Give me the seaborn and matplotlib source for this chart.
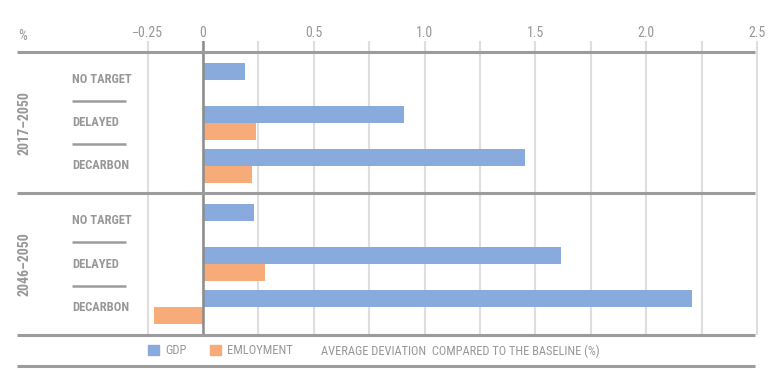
import matplotlib
matplotlib.use("Agg")
import matplotlib.pyplot as plt
from matplotlib import font_manager
from matplotlib.lines import Line2D
from matplotlib.patches import Patch
import seaborn as sns
import pandas as pd
import numpy as np

# ---- data ----
scenarios = ["NO TARGET", "DELAYED", "DECARBON"]
periods = ["2017–2050", "2046–2050"]
series = ["GDP", "EMLOYMENT"]

gdp_2017 = [0.19, 0.905, 1.455]
emp_2017 = [np.nan, 0.24, 0.22]
gdp_2046 = [0.23, 1.615, 2.205]
emp_2046 = [np.nan, 0.28, -0.22]

tick_values = [-0.25, 0, 0.25, 0.5, 0.75, 1.0, 1.25, 1.5, 1.75, 2.0, 2.25, 2.5]
tick_labels = ["−0.25", "0", "", "0.5", "", "1.0", "", "1.5", "", "2.0", "", "2.5"]

blue = "#88aadc"
orange = "#f6ab78"
grey_txt = "#979797"
grey_line = "#9c9c9c"

sns.set_style("white")

# condensed font if there is one
names = {f.name for f in font_manager.fontManager.ttflist}
fam = "DejaVu Sans"
for c in ["Roboto Condensed", "Open Sans Condensed", "Liberation Sans Narrow", "DejaVu Sans Condensed"]:
    if c in names:
        fam = c
        break
plt.rcParams["font.family"] = [fam, "DejaVu Sans"]
if fam == "DejaVu Sans":
    plt.rcParams["font.stretch"] = "condensed"


def make_df(gdp, emp):
    rows = []
    for s, g, e in zip(scenarios, gdp, emp):
        rows.append({"scenario": s, "series": "GDP", "value": g})
        if not np.isnan(e):
            rows.append({"scenario": s, "series": "EMLOYMENT", "value": e})
    return pd.DataFrame(rows)


dfs = [make_df(gdp_2017, emp_2017), make_df(gdp_2046, emp_2046)]

fig = plt.figure(figsize=(7.68, 3.81), dpi=100)
W, H = 768, 381
x0, x1 = 17, 758
ax1 = fig.add_axes([x0 / W, 1 - 193 / H, (x1 - x0) / W, (193 - 41) / H])
ax2 = fig.add_axes([x0 / W, 1 - 335 / H, (x1 - x0) / W, (335 - 193) / H])
axes = [ax1, ax2]

xlim = (-0.84, 2.505)
for ax, df, period in zip(axes, dfs, periods):
    sns.barplot(data=df, y="scenario", x="value", hue="series", order=scenarios,
                hue_order=series, palette=[blue, orange], orient="h", errorbar=None,
                saturation=1, linewidth=0, ax=ax, legend=False, zorder=3)
    ax.set_xlim(*xlim)
    ax.set_xticks(tick_values)
    ax.grid(axis="x", color="#dedede", lw=1.5, zorder=0)
    ax.grid(axis="y", visible=False)
    ax.axvline(0, color="#8c8c8c", lw=1.8, zorder=4)
    for sp in ax.spines.values():
        sp.set_visible(False)
    ax.set_ylabel("")
    ax.set_xlabel("")
    ax.set_yticks([])
    ax.tick_params(length=0)
    # category labels + short separators
    for i, s in enumerate(scenarios):
        ax.text(-0.59, i, s, ha="left", va="center", color=grey_txt,
                fontsize=9, fontweight="bold")
    ax.hlines([0.5, 1.5], -0.59, -0.347, color=grey_line, lw=1.8)
    ax.text(-0.807, 1, period, rotation=90, ha="center", va="center",
            color=grey_txt, fontsize=10, fontweight="bold")

ax1.set_ylim(2.63, -0.907)
ax2.set_ylim(2.651, -0.651)

ax1.xaxis.tick_top()
ax1.set_xticklabels(tick_labels)
ax1.tick_params(axis="x", pad=0.5, labelsize=10, labelcolor=grey_txt)
ax2.set_xticklabels([])

# thick horizontal rules
for ypx in [52, 193, 335, 366]:
    fig.add_artist(Line2D([17 / W, 755 / W], [1 - ypx / H, 1 - ypx / H],
                          color=grey_line, lw=2.2, solid_capstyle="butt", zorder=10))

fig.text(18 / W, 1 - 35.5 / H, "%", color=grey_txt, fontsize=10, va="center", ha="left")

handles = [Patch(color=blue, label="GDP"), Patch(color=orange, label="EMLOYMENT")]
fig.legend(handles=handles, loc="center left", bbox_to_anchor=(143 / W, 1 - 351 / H),
           ncol=2, frameon=False, fontsize=9, labelcolor=grey_txt,
           handlelength=0.85, handleheight=0.85, handletextpad=0.5, columnspacing=1.9,
           borderaxespad=0)
fig.text(321 / W, 1 - 351 / H, "AVERAGE DEVIATION  COMPARED TO THE BASELINE (%)",
         color=grey_txt, fontsize=8.9, va="center", ha="left")

fig.savefig("out.png", dpi=100)
